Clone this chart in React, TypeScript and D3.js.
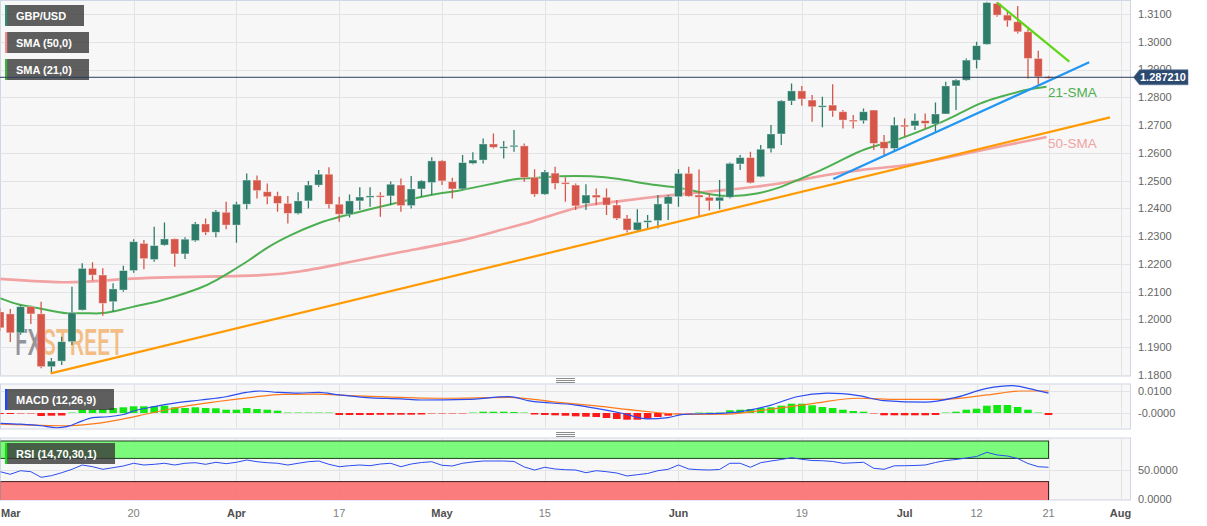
import React from 'react';
import * as d3 from 'd3';

const W = 1207;
const H = 526;

// ---- x axis (trading-day index, Mar 1 2023 = 0) ----
const tickIdx = [0, 13, 23, 33, 43, 53, 66, 78, 88, 95, 102, 109];
const tickLabels = ['Mar', '20', 'Apr', '17', 'May', '15', 'Jun', '19', 'Jul', '12', '21', 'Aug'];
const tickIsMonth = [true, false, true, false, true, false, true, false, true, false, false, true];

// ---- price axis ----
const priceTicks = [1.18, 1.19, 1.2, 1.21, 1.22, 1.23, 1.24, 1.25, 1.26, 1.27, 1.28, 1.29, 1.3, 1.31];
const lastPrice = 1.28721;

// ---- OHLC (daily GBP/USD) ----
const open = [1.2027, 1.2020, 1.1952, 1.2046, 1.2020, 1.1830, 1.1850, 1.1920, 1.2034, 1.2184, 1.2160, 1.2064, 1.2106, 1.2176, 1.2274, 1.2216, 1.2268, 1.2290, 1.2236, 1.2284, 1.2344, 1.2314, 1.2386, 1.2340, 1.2415, 1.2502, 1.2460, 1.2445, 1.2418, 1.2382, 1.2427, 1.2484, 1.2523, 1.2415, 1.2379, 1.2427, 1.2443, 1.2446, 1.2445, 1.2484, 1.2410, 1.2470, 1.2493, 1.2571, 1.2496, 1.2470, 1.2562, 1.2574, 1.2632, 1.2620, 1.2622, 1.2625, 1.2512, 1.2451, 1.2527, 1.2493, 1.2484, 1.2418, 1.2448, 1.2440, 1.2412, 1.2364, 1.2322, 1.2350, 1.2356, 1.2416, 1.2442, 1.2526, 1.2448, 1.2440, 1.2427, 1.2440, 1.2560, 1.2583, 1.2514, 1.2615, 1.2668, 1.2787, 1.2823, 1.2790, 1.2766, 1.2772, 1.2748, 1.2718, 1.2716, 1.2754, 1.2640, 1.2616, 1.2700, 1.2697, 1.2716, 1.2704, 1.2740, 1.2841, 1.2862, 1.2934, 1.2991, 1.3138, 1.3096, 1.3072, 1.3036, 1.2940, 1.2874];
const high = [1.2040, 1.2038, 1.2052, 1.2048, 1.2064, 1.1861, 1.1938, 1.2118, 1.2202, 1.2206, 1.2184, 1.2130, 1.2193, 1.2289, 1.2286, 1.2334, 1.2349, 1.2292, 1.2296, 1.2351, 1.2364, 1.2394, 1.2424, 1.2424, 1.2526, 1.2518, 1.2490, 1.2460, 1.2445, 1.2458, 1.2499, 1.2538, 1.2548, 1.2442, 1.2450, 1.2476, 1.2476, 1.2458, 1.2497, 1.2508, 1.2517, 1.2502, 1.2584, 1.2574, 1.2510, 1.2592, 1.2602, 1.2652, 1.2670, 1.2643, 1.2682, 1.2634, 1.2541, 1.2538, 1.2550, 1.2512, 1.2490, 1.2487, 1.2472, 1.2472, 1.2430, 1.2376, 1.2397, 1.2376, 1.2448, 1.2448, 1.2541, 1.2550, 1.2540, 1.2454, 1.2502, 1.2565, 1.2592, 1.2604, 1.2628, 1.2700, 1.2790, 1.2850, 1.2841, 1.2808, 1.2802, 1.2847, 1.2754, 1.2736, 1.2760, 1.2754, 1.2664, 1.2728, 1.2724, 1.2742, 1.2742, 1.2781, 1.2856, 1.2865, 1.2940, 1.3000, 1.3144, 1.3143, 1.3108, 1.3129, 1.3048, 1.2968, 1.2878];
const low = [1.1958, 1.1919, 1.1945, 1.1984, 1.1824, 1.1806, 1.1836, 1.1908, 1.2032, 1.2140, 1.2013, 1.2028, 1.2100, 1.2168, 1.2181, 1.2208, 1.2265, 1.2190, 1.2218, 1.2280, 1.2304, 1.2296, 1.2325, 1.2276, 1.2397, 1.2436, 1.2415, 1.2388, 1.2346, 1.2378, 1.2400, 1.2478, 1.2400, 1.2352, 1.2367, 1.2394, 1.2406, 1.2370, 1.2412, 1.2388, 1.2400, 1.2442, 1.2448, 1.2484, 1.2436, 1.2466, 1.2559, 1.2562, 1.2616, 1.2580, 1.2604, 1.2496, 1.2442, 1.2448, 1.2469, 1.2424, 1.2394, 1.2394, 1.2412, 1.2376, 1.2358, 1.2313, 1.2316, 1.2328, 1.2328, 1.2358, 1.2406, 1.2442, 1.2373, 1.2392, 1.2397, 1.2436, 1.2538, 1.2490, 1.2512, 1.2601, 1.2628, 1.2772, 1.2770, 1.2712, 1.2692, 1.2730, 1.2688, 1.2688, 1.2706, 1.2610, 1.2592, 1.2604, 1.2658, 1.2682, 1.2688, 1.2673, 1.2740, 1.2754, 1.2860, 1.2904, 1.2990, 1.3090, 1.3054, 1.3030, 1.2868, 1.2844, 1.2868];
const close = [1.1970, 1.1952, 1.2046, 1.2020, 1.1830, 1.1850, 1.1920, 1.2024, 1.2184, 1.2160, 1.2058, 1.2110, 1.2176, 1.2280, 1.2219, 1.2266, 1.2290, 1.2236, 1.2289, 1.2344, 1.2314, 1.2388, 1.2340, 1.2415, 1.2502, 1.2464, 1.2442, 1.2418, 1.2382, 1.2427, 1.2484, 1.2523, 1.2415, 1.2379, 1.2427, 1.2441, 1.2445, 1.2443, 1.2487, 1.2410, 1.2470, 1.2499, 1.2571, 1.2499, 1.2470, 1.2565, 1.2574, 1.2632, 1.2620, 1.2622, 1.2627, 1.2511, 1.2451, 1.2531, 1.2490, 1.2488, 1.2409, 1.2448, 1.2439, 1.2412, 1.2364, 1.2322, 1.2350, 1.2356, 1.2416, 1.2442, 1.2526, 1.2444, 1.2440, 1.2427, 1.2440, 1.2562, 1.2583, 1.2492, 1.2613, 1.2668, 1.2787, 1.2823, 1.2794, 1.2766, 1.2770, 1.2751, 1.2718, 1.2715, 1.2748, 1.2634, 1.2616, 1.2700, 1.2694, 1.2716, 1.2706, 1.2740, 1.2841, 1.2862, 1.2934, 1.2986, 1.3141, 1.3096, 1.3076, 1.3036, 1.2940, 1.2874, 1.28721];

// ---- moving averages (read at sample days) ----
const sma21Idx = [0, 1.95, 3.2, 4.86, 6.5, 8.1, 9.7, 11, 12.9, 14.9, 16.8, 19.5, 21.1, 22.7, 24.3, 25.8, 28.2, 31.1, 33.1, 35, 37, 38.9, 40.9, 43.1, 44.7, 47, 48.6, 50.3, 51.8, 54.3, 57.6, 60.1, 63.4, 65.7, 67.9, 69.3, 71.2, 73.7, 75.7, 77.6, 80.3, 82.2, 84.1, 86.8, 88.5, 90.8, 93.1, 95.3, 97.3, 99.9, 101.8];
const sma21Val = [1.2077, 1.2050, 1.2046, 1.2032, 1.2020, 1.2024, 1.2020, 1.2028, 1.2046, 1.2060, 1.2080, 1.2112, 1.2142, 1.2178, 1.2214, 1.2256, 1.2304, 1.2350, 1.2370, 1.2388, 1.2406, 1.2423, 1.2442, 1.2456, 1.2464, 1.2482, 1.2494, 1.2508, 1.2508, 1.2517, 1.2517, 1.2508, 1.2484, 1.2478, 1.2460, 1.2448, 1.2442, 1.2452, 1.2472, 1.2502, 1.2544, 1.2580, 1.2616, 1.2640, 1.2664, 1.2697, 1.2736, 1.2780, 1.2802, 1.2829, 1.2838];
const sma50Idx = [0, 6.5, 9.7, 12.9, 16.2, 19.5, 25.8, 29.2, 33.1, 38.9, 45.4, 48.6, 51.8, 55.2, 57.6, 60, 63.2, 66.4, 70.5, 73.7, 77, 80.3, 83.5, 86.8, 88.5, 92.4, 95.6, 101.8];
const sma50Val = [1.2146, 1.2130, 1.2139, 1.2148, 1.2152, 1.2154, 1.2158, 1.2171, 1.2200, 1.2243, 1.2286, 1.2322, 1.2352, 1.2394, 1.2416, 1.2424, 1.2440, 1.2452, 1.2466, 1.2478, 1.2496, 1.2520, 1.2538, 1.2550, 1.2556, 1.2585, 1.2610, 1.2657];

// ---- trend lines ----
const orangeIdx = [4.93, 107.98];
const orangeVal = [1.18061, 1.27277];
const blueIdx = [81.06, 105.96];
const blueVal = [1.25058, 1.29261];
const limeIdx = [97.01, 104.02];
const limeVal = [1.3141, 1.29282];

// ---- MACD ----
const macdIdx = [0, 2, 4, 5.5, 6.5, 8, 9, 10.5, 12, 13, 15, 17, 19.5, 22, 24, 25.3, 27, 29, 31, 33, 35.7, 39, 41, 45.5, 49.5, 51.5, 56, 58, 60.5, 63, 65, 66.5, 70.5, 73, 75, 77.5, 80.5, 83.5, 86, 90, 93, 96, 98.5, 100, 102];
const macdVal = [-0.0047, -0.0051, -0.0058, -0.0067, -0.0062, -0.0036, -0.0021, -0.0017, -0.0007, 0.0009, 0.0029, 0.0045, 0.0059, 0.0074, 0.0094, 0.0100, 0.0094, 0.0090, 0.0094, 0.0082, 0.0070, 0.0064, 0.0059, 0.0062, 0.0074, 0.0055, 0.0036, 0.0021, -0.0001, -0.0027, -0.0021, -0.0006, -0.0001, 0.0014, 0.0036, 0.0074, 0.0090, 0.0079, 0.0056, 0.0049, 0.0071, 0.0112, 0.0124, 0.0112, 0.0090];
const signalIdx = [0, 3.2, 6.5, 8.75, 11.4, 14.6, 17.8, 21, 24.3, 27.5, 30.8, 34, 37, 43.3, 49.6, 53.8, 58, 62.3, 66.5, 70.7, 75, 79.2, 83.4, 87.5, 91.8, 96, 99.4, 102];
const signalVal = [-0.0051, -0.0055, -0.0058, -0.0051, -0.0032, -0.0001, 0.0029, 0.0051, 0.0070, 0.0085, 0.0086, 0.0079, 0.0074, 0.0067, 0.0071, 0.0051, 0.0032, 0.0010, -0.0006, -0.0005, 0.0017, 0.0044, 0.0067, 0.0062, 0.0062, 0.0082, 0.0100, 0.0100];
const histVal = [-0.00045, -0.00045, -0.00018, -0.00018, -0.00136, -0.00123, -0.00114, 0.00023, 0.0015, 0.0015, 0.00182, 0.00227, 0.00259, 0.00305, 0.00305, 0.00305, 0.00332, 0.00259, 0.00227, 0.00259, 0.00227, 0.00214, 0.0015, 0.0015, 0.00227, 0.00182, 0.0015, 0.00105, 0.00032, 0.00023, 0.00023, 0.00023, 0.00014, -0.00091, -0.00091, -0.00091, -0.00091, -0.00082, -0.00077, -0.00077, -0.00077, -0.00068, -0.00023, -0.00018, -0.00014, -0.00009, 0.00014, 0.00059, 0.00059, 0.00059, 0.00045, 0.00009, -0.00068, -0.00091, -0.00105, -0.00123, -0.0015, -0.00168, -0.00182, -0.00227, -0.00273, -0.00305, -0.00305, -0.00259, -0.00182, -0.00123, -0.00023, -0.00009, 0.00009, 0.00009, 0.00014, 0.00123, 0.0015, 0.00182, 0.00227, 0.00259, 0.00332, 0.00423, 0.00423, 0.0035, 0.00273, 0.00227, 0.0015, 0.00091, 0.00059, -0.00023, -0.00105, -0.00105, -0.00105, -0.00105, -0.00105, -0.00091, 0.00014, 0.00059, 0.0015, 0.00196, 0.00332, 0.00364, 0.00364, 0.00273, 0.0015, 0.00014, -0.00091];
const macdTicks = [0.01, 0];
const macdTickLabels = ['0.0100', '-0.0000'];

// ---- RSI ----
const rsiVal = [47.1, 42.6, 48.8, 47.1, 37.4, 40.2, 45.3, 51.2, 58.6, 55.7, 51.2, 54.0, 56.9, 61.6, 58.6, 59.8, 61.6, 58.6, 61.6, 62.6, 59.8, 63.3, 60.9, 63.3, 67.2, 64.3, 62.6, 61.6, 58.6, 61.6, 64.3, 65.5, 59.8, 55.7, 57.4, 58.6, 57.4, 60.3, 61.6, 55.7, 60.3, 62.9, 64.3, 58.1, 56.9, 61.6, 63.8, 65.5, 65.5, 65.5, 64.7, 55.2, 50, 54.7, 51.7, 50.5, 50, 45.3, 48.8, 47.1, 44.8, 39.7, 41.9, 44, 48.8, 51.2, 58.6, 51.7, 50.5, 50, 50.9, 61.6, 61.6, 54.7, 62.6, 65.5, 68.1, 71.2, 68.4, 66.4, 66, 64.7, 61.6, 62.4, 63.3, 52.9, 51.2, 57.2, 57.4, 57.8, 58.6, 62.9, 66.4, 68.1, 70.7, 73.3, 80.5, 75.9, 74.1, 69.8, 61.2, 55.7, 54.7];
const rsiTicks = [50, 0];
const rsiTickLabels = ['50.0000', '0.0000'];

const FONT = "'Liberation Sans', Arial, Helvetica, sans-serif";
const BULL = '#2e7d6b';
const BEAR = '#d6574a';
const GRID = '#e3e3e6';
const BORDER = '#cfd6e6';
const PANEL_BG = '#f7f7f7';

const PLOT_R = 1130.5;
const MAIN = { top: 0.5, bottom: 376 };
const MACDP = { top: 384, bottom: 429 };
const RSIP = { top: 438, bottom: 500 };

export default function App() {
  const x = d3.scaleLinear().domain([0, 109]).range([0, 1120.5]);
  const yP = d3.scaleLinear().domain([1.18, 1.31]).range([375, 14]);
  const yM = d3.scaleLinear().domain([0, 0.01]).range([413, 391]);
  const yR = d3.scaleLinear().domain([0, 50]).range([499, 470]);

  const pairLine = (xs: number[], ys: number[], yS: (v: number) => number, curve: d3.CurveFactory) =>
    d3
      .line<number>()
      .x((_, k) => x(xs[k]))
      .y((v) => yS(v))
      .curve(curve)(ys) || '';

  const idxLine = (ys: number[], yS: (v: number) => number) =>
    d3
      .line<number>()
      .x((_, k) => x(k))
      .y((v) => yS(v))(ys) || '';

  const panel = (p: { top: number; bottom: number }, id: string) => (
    <g>
      <rect x={0.5} y={p.top} width={PLOT_R - 0.5} height={p.bottom - p.top} fill={PANEL_BG} stroke={BORDER} strokeWidth={1} />
      {tickIdx.slice(1).map((t, k) => (
        <line key={id + k} x1={Math.round(x(t)) + 0.5} x2={Math.round(x(t)) + 0.5} y1={p.top} y2={p.bottom} stroke={GRID} strokeWidth={1} />
      ))}
    </g>
  );

  const legend = (y0: number, w: number, color: string, label: string) => (
    <g>
      <rect x={5} y={y0} width={w} height={21} fill="rgba(55,55,55,0.8)" />
      <rect x={5} y={y0} width={2.2} height={21} fill={color} />
      <text x={16} y={y0 + 14.5} fill="#ffffff" fontSize={11} fontWeight="bold" fontFamily={FONT}>
        {label}
      </text>
    </g>
  );

  const handle = (yc: number) => (
    <g stroke="#8c8c8c" strokeWidth={1}>
      {[-2, 0, 2].map((d) => (
        <line key={d} x1={556} x2={575} y1={yc + d + 0.5} y2={yc + d + 0.5} />
      ))}
    </g>
  );

  const yLast = yP(lastPrice);

  return (
    <svg
      width={W}
      height={H}
      viewBox={`0 0 ${W} ${H}`}
      style={{ position: 'absolute', left: 0, top: 0, background: '#ffffff' }}
      fontFamily={FONT}
    >
      <defs>
        <clipPath id="clipMain">
          <rect x={0.5} y={MAIN.top} width={PLOT_R - 0.5} height={MAIN.bottom - MAIN.top} />
        </clipPath>
        <clipPath id="clipMacd">
          <rect x={0.5} y={MACDP.top} width={PLOT_R - 0.5} height={MACDP.bottom - MACDP.top} />
        </clipPath>
        <clipPath id="clipRsi">
          <rect x={0.5} y={RSIP.top} width={PLOT_R - 0.5} height={RSIP.bottom - RSIP.top} />
        </clipPath>
      </defs>
      <rect x={0} y={0} width={W} height={H} fill="#ffffff" />

      {/* ================= MAIN PANEL ================= */}
      {panel(MAIN, 'm')}
      <g clipPath="url(#clipMain)">
        {priceTicks.map((p) => (
          <line key={p} x1={0} x2={PLOT_R} y1={Math.round(yP(p)) + 0.5} y2={Math.round(yP(p)) + 0.5} stroke={GRID} strokeWidth={1} />
        ))}

        {/* watermark */}
        <text
          x={15}
          y={355}
          fontFamily="Roboto, 'DejaVu Sans Condensed', sans-serif"
          fontSize={36}
          fontWeight={500}
          textLength={109}
          lengthAdjust="spacingAndGlyphs"
        >
          <tspan fill="#93949c">FX</tspan>
          <tspan fill="#f3bd86">STREET</tspan>
        </text>

        {/* moving averages */}
        <path d={pairLine(sma50Idx, sma50Val, yP, d3.curveBasis)} fill="none" stroke="#f2a2a2" strokeWidth={2.6} />
        <path d={pairLine(sma21Idx, sma21Val, yP, d3.curveBasis)} fill="none" stroke="#4caf50" strokeWidth={2} />

        {/* candles */}
        {close.map((c, i) => {
          const o = open[i];
          const up = c >= o;
          const col = up ? BULL : BEAR;
          const cx = x(i);
          const yTop = yP(Math.max(o, c));
          const yBot = yP(Math.min(o, c));
          const h = Math.max(yBot - yTop, 1.5);
          return (
            <g key={i}>
              <line x1={cx} x2={cx} y1={yP(high[i])} y2={yP(low[i])} stroke={col} strokeWidth={1.3} />
              <rect x={cx - 4} y={yTop} width={8} height={h} fill={col} stroke="rgba(255,255,255,0.45)" strokeWidth={0.8} />
            </g>
          );
        })}

        {/* trend lines */}
        <path d={pairLine(orangeIdx, orangeVal, yP, d3.curveLinear)} fill="none" stroke="#ff9a00" strokeWidth={2.2} />
        <path d={pairLine(blueIdx, blueVal, yP, d3.curveLinear)} fill="none" stroke="#2196f3" strokeWidth={2.2} />
        <path d={pairLine(limeIdx, limeVal, yP, d3.curveLinear)} fill="none" stroke="#5fd616" strokeWidth={2.2} />

        {/* MA labels */}
        <text x={1048} y={97} fontSize={13.5} fill="#4caf50" fontFamily={FONT}>
          21-SMA
        </text>
        <text x={1048} y={147.5} fontSize={13.5} fill="#f2a2a2" fontFamily={FONT}>
          50-SMA
        </text>

        {/* legends */}
        {legend(5, 79, '#2e8b74', 'GBP/USD')}
        {legend(32, 84, '#f08a8a', 'SMA (50,0)')}
        {legend(59, 84, '#3cb043', 'SMA (21,0)')}
      </g>

      {/* current price line */}
      <line x1={0} x2={1134} y1={yLast} y2={yLast} stroke="#2b3d5c" strokeWidth={1} />

      {/* price axis labels */}
      {priceTicks.map((p) => (
        <text key={p} x={1138} y={yP(p)} dy="0.36em" fontSize={11} fill="#666666">
          {p.toFixed(4)}
        </text>
      ))}
      <path
        d={`M1133.5,${yLast} L1139.5,${yLast - 7.5} L1188,${yLast - 7.5} L1188,${yLast + 7.5} L1139.5,${yLast + 7.5} Z`}
        fill="#2c4a70"
        stroke="#5a7090"
        strokeWidth={0.6}
      />
      <text x={1140} y={yLast} dy="0.36em" fontSize={11} fontWeight="bold" fill="#ffffff">
        {lastPrice.toFixed(6)}
      </text>

      {handle(380)}

      {/* ================= MACD PANEL ================= */}
      {panel(MACDP, 'c')}
      <g clipPath="url(#clipMacd)">
        {macdTicks.map((t) => (
          <line key={t} x1={0} x2={PLOT_R} y1={Math.round(yM(t)) + 0.5} y2={Math.round(yM(t)) + 0.5} stroke={GRID} strokeWidth={1} />
        ))}
        {histVal.map((v, i) => {
          const y0 = yM(0);
          const y1 = yM(v);
          const h = Math.abs(y1 - y0);
          const hh = Math.max(h, 1);
          return (
            <rect
              key={i}
              x={x(i) - 3.8}
              y={v >= 0 ? y0 - hh : y0}
              width={7.6}
              height={hh}
              fill={v >= 0 ? '#12e812' : '#ff1a1a'}
              opacity={h < 0.8 ? 0.45 : 1}
            />
          );
        })}
        <path d={pairLine(signalIdx, signalVal, yM, d3.curveMonotoneX)} fill="none" stroke="#ff7a1a" strokeWidth={1.2} />
        <path d={pairLine(macdIdx, macdVal, yM, d3.curveMonotoneX)} fill="none" stroke="#2b4cf0" strokeWidth={1.2} />
        {legend(389, 109, '#2047ff', 'MACD (12,26,9)')}
      </g>
      {macdTicks.map((t, k) => (
        <text key={t} x={1138} y={yM(t)} dy="0.36em" fontSize={11} fill="#666666">
          {macdTickLabels[k]}
        </text>
      ))}

      {handle(434)}

      {/* ================= RSI PANEL ================= */}
      {panel(RSIP, 'r')}
      <g clipPath="url(#clipRsi)">
        {rsiTicks.map((t) => (
          <line key={t} x1={0} x2={PLOT_R} y1={Math.round(yR(t)) + 0.5} y2={Math.round(yR(t)) + 0.5} stroke={GRID} strokeWidth={1} />
        ))}
        <rect x={0} y={yR(100)} width={x(102)} height={yR(70) - yR(100)} fill="rgba(110,250,110,0.9)" stroke="#1f3f1f" strokeWidth={1} />
        <rect x={0} y={yR(30)} width={x(102)} height={yR(0) - yR(30) + 2} fill="rgba(250,110,110,0.9)" stroke="#3f1f1f" strokeWidth={1} />
        <path d={idxLine(rsiVal, yR)} fill="none" stroke="#2b4cf0" strokeWidth={1} />
        {legend(443, 110, '#11dd11', 'RSI (14,70,30,1)')}
      </g>
      {rsiTicks.map((t, k) => (
        <text key={t} x={1138} y={yR(t)} dy="0.36em" fontSize={11} fill="#666666">
          {rsiTickLabels[k]}
        </text>
      ))}

      {/* ================= X AXIS ================= */}
      {tickIdx.map((t, k) => {
        const px = x(t);
        const first = k === 0;
        return (
          <text
            key={t}
            x={first ? 1 : px}
            y={517}
            textAnchor={first ? 'start' : 'middle'}
            fontSize={11}
            fontWeight={tickIsMonth[k] ? 'bold' : 'normal'}
            fill={tickIsMonth[k] ? '#505050' : '#808080'}
          >
            {tickLabels[k]}
          </text>
        );
      })}
    </svg>
  );
}
